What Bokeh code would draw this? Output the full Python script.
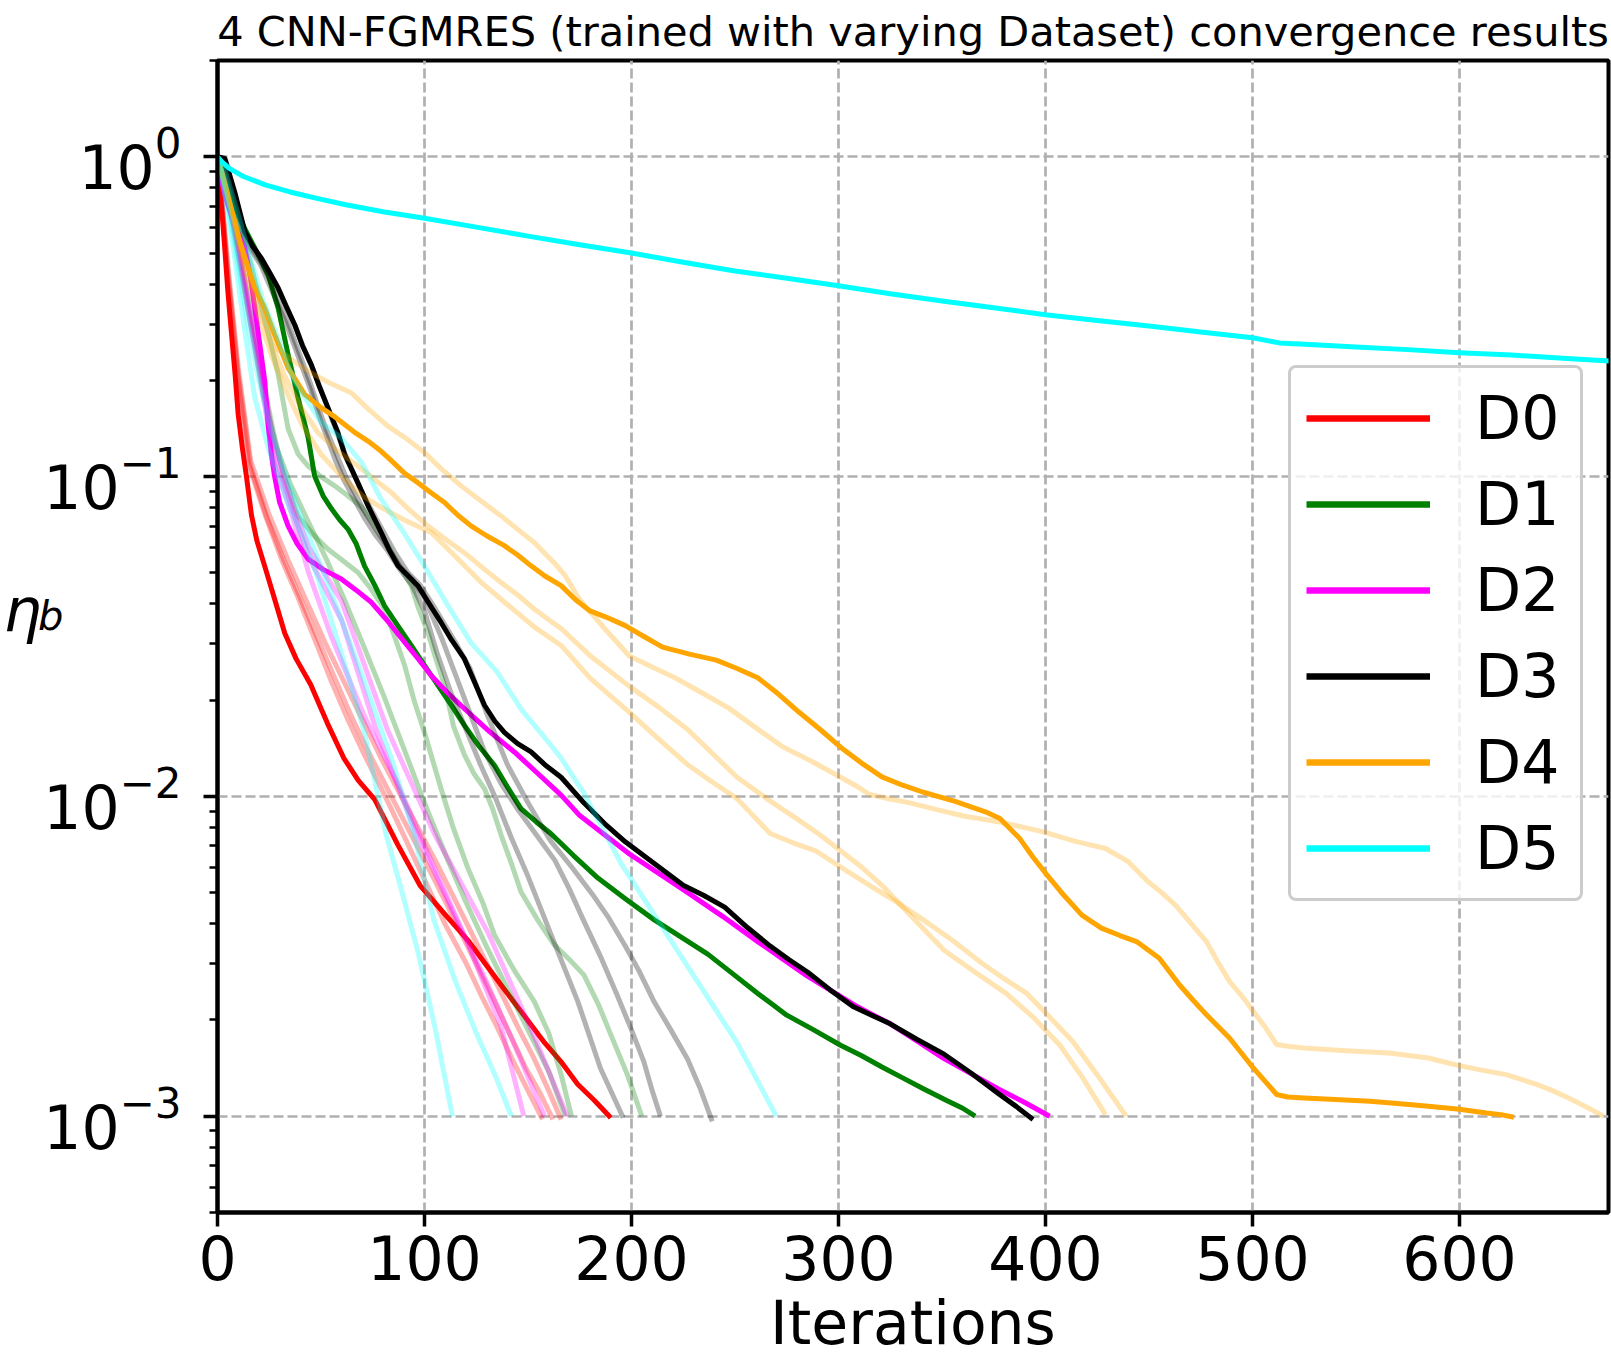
from bokeh.plotting import figure
from bokeh.models import Range1d, FixedTicker, Legend, LegendItem, LogAxis
from bokeh.embed import file_html
from bokeh.resources import INLINE

FONT = "DejaVu Sans"
TITLE = "4 CNN-FGMRES (trained with varying Dataset) convergence results"
LABELS = ["D0", "D1", "D2", "D3", "D4", "D5"]
COLORS = ["red", "green", "magenta", "black", "orange", "cyan"]
X_TICKS = [0, 100, 200, 300, 400, 500, 600]
Y_TICKS = [1e-3, 1e-2, 1e-1, 1.0]

# Each run: iteration numbers and log10 of the residual eta_b.
# ---- D0 (red) ----
d0_it = [0, 1, 2, 3.5, 5, 6.8, 8.5, 10, 12, 14, 16.4, 19, 22.8, 27, 32.5, 38, 45, 53, 61, 68,
         76, 87, 98, 110, 121, 129, 137, 144, 151, 158, 166, 174, 182, 190]
d0_lg = [0, -0.05, -0.16, -0.285, -0.42, -0.556, -0.68, -0.806, -0.91, -1.0, -1.12, -1.2, -1.28,
         -1.37, -1.49, -1.57, -1.65, -1.77, -1.88, -1.95, -2.01, -2.15, -2.28, -2.37, -2.45, -2.52,
         -2.59, -2.65, -2.71, -2.77, -2.83, -2.90, -2.95, -3.005]
d0_a_it = [0, 2, 5, 10, 15, 23, 31, 39, 47, 55, 63, 71, 78, 84, 92, 100, 110, 120, 128, 135, 143, 150, 157]
d0_a_lg = [0, -0.14, -0.38, -0.70, -0.96, -1.12, -1.26, -1.38, -1.51, -1.64, -1.76, -1.87, -1.96, -2.04,
           -2.15, -2.26, -2.40, -2.52, -2.63, -2.72, -2.83, -2.92, -3.01]
d0_b_it = [0, 2, 5, 10, 16, 24, 32, 40, 48, 56, 64, 72, 80, 88, 96, 104, 114, 124, 133, 141, 149, 156, 162]
d0_b_lg = [0, -0.13, -0.36, -0.68, -0.97, -1.13, -1.26, -1.38, -1.50, -1.62, -1.74, -1.85, -1.95, -2.05,
           -2.15, -2.25, -2.38, -2.51, -2.63, -2.74, -2.85, -2.93, -3.01]
d0_c_it = [0, 2, 5, 10, 16, 25, 34, 43, 52, 61, 70, 79, 88, 97, 106, 116, 126, 136, 145, 153, 160, 166]
d0_c_lg = [0, -0.12, -0.34, -0.66, -0.95, -1.12, -1.26, -1.39, -1.52, -1.64, -1.76, -1.88, -1.99, -2.10,
           -2.21, -2.34, -2.47, -2.60, -2.72, -2.82, -2.92, -3.01]

# ---- D1 (green) ----
d1_it = [0, 3, 6.8, 12, 18, 24.5, 29.3, 34.1, 38.9, 43.8, 46.9, 51, 55, 59, 63, 67, 71, 76, 80.7, 87,
         93.6, 100, 106.5, 113, 119.3, 126, 133.8, 140, 146.6, 154, 161, 172, 183, 197, 211, 224, 237,
         249, 261, 268, 275, 288, 301, 311, 321, 331, 341, 352, 360, 366]
d1_lg = [0, -0.04, -0.13, -0.21, -0.285, -0.369, -0.473, -0.618, -0.753, -0.878, -0.998, -1.06, -1.10,
         -1.135, -1.164, -1.21, -1.279, -1.34, -1.404, -1.465, -1.528, -1.59, -1.653, -1.715, -1.778,
         -1.84, -1.903, -1.97, -2.038, -2.08, -2.116, -2.185, -2.251, -2.32, -2.386, -2.44, -2.494,
         -2.555, -2.616, -2.65, -2.684, -2.73, -2.778, -2.81, -2.846, -2.88, -2.914, -2.95, -2.975, -3.0]
d1_a_it = [0, 3, 7, 12, 17, 22, 27, 32, 38.9, 46, 53.4, 60, 67.9, 74, 80.7, 85, 90.4, 95.2, 100, 108,
           114, 121, 128, 133.8, 143, 153, 160, 166, 171]
d1_a_lg = [0, -0.06, -0.18, -0.34, -0.52, -0.70, -0.86, -1.0, -1.123, -1.18, -1.227, -1.26, -1.30, -1.35,
           -1.414, -1.49, -1.59, -1.705, -1.80, -1.976, -2.10, -2.225, -2.33, -2.433, -2.54, -2.641,
           -2.74, -2.87, -3.0]
d1_b_it = [0, 3, 7, 12, 16.4, 20, 24.5, 29.3, 34.1, 39, 43.8, 50, 56.6, 63, 69.5, 76, 82.3, 88, 93.6, 97,
           101.6, 105.5, 109.7, 114, 119.3, 124, 129, 133, 137, 142, 146.6, 155, 162.7, 170, 177, 184,
           190, 198, 205]
d1_b_lg = [0, -0.05, -0.14, -0.25, -0.343, -0.44, -0.551, -0.68, -0.85, -0.93, -0.967, -1.0, -1.029,
           -1.06, -1.095, -1.15, -1.216, -1.28, -1.341, -1.41, -1.487, -1.57, -1.653, -1.78, -1.87,
           -1.93, -1.976, -2.04, -2.121, -2.21, -2.298, -2.39, -2.464, -2.51, -2.558, -2.65, -2.745,
           -2.87, -3.0]
d1_c_it = [0, 3, 7, 12, 17, 22, 28, 35, 43, 52, 61, 70, 80, 90, 100, 110, 120, 130, 140, 150, 160, 168]
d1_c_lg = [0, -0.06, -0.2, -0.38, -0.56, -0.74, -0.9, -1.02, -1.13, -1.25, -1.38, -1.52, -1.68, -1.85,
           -2.02, -2.18, -2.33, -2.47, -2.6, -2.73, -2.86, -3.0]

# ---- D2 (magenta) ----
d2_it = [0, 2, 5, 8, 13.2, 16, 18, 20.5, 22.8, 24.5, 26, 27.6, 30, 34.1, 38.5, 43.8, 51, 59.8, 67, 74.3,
         82, 90.4, 97, 103.2, 111, 119.3, 131, 143.4, 155, 166, 175, 187, 199, 213, 227, 244, 261, 273,
         285, 297, 309, 317, 325, 338, 351, 364, 377, 390, 402]
d2_lg = [0, -0.077, -0.15, -0.21, -0.285, -0.38, -0.473, -0.59, -0.70, -0.84, -0.93, -1.0, -1.08, -1.154,
         -1.21, -1.258, -1.29, -1.32, -1.355, -1.393, -1.45, -1.518, -1.57, -1.622, -1.675, -1.726,
         -1.795, -1.861, -1.93, -1.996, -2.06, -2.12, -2.18, -2.24, -2.30, -2.375, -2.454, -2.508,
         -2.562, -2.61, -2.657, -2.684, -2.711, -2.765, -2.82, -2.867, -2.914, -2.957, -3.0]
d2_a_it = [0, 3.5, 10, 15, 21, 26, 28, 36, 44, 55, 71, 87, 95, 110, 121, 137, 148]
d2_a_lg = [0, -0.08, -0.29, -0.49, -0.7, -0.91, -0.97, -1.12, -1.30, -1.5, -1.75, -1.96, -2.08, -2.3,
           -2.46, -2.72, -3.0]
d2_b_it = [0, 3.5, 10, 15, 21, 26, 29, 36, 44, 60, 76, 95, 115, 130, 145, 158]
d2_b_lg = [0, -0.08, -0.28, -0.47, -0.68, -0.88, -0.96, -1.1, -1.25, -1.45, -1.78, -2.1, -2.38, -2.58,
           -2.8, -3.0]
d2_c_it = [0, 3.5, 10, 15, 21, 26, 30, 37, 44, 60, 82, 105, 131, 153, 169]
d2_c_lg = [0, -0.07, -0.27, -0.46, -0.66, -0.85, -0.95, -1.1, -1.22, -1.39, -1.79, -2.12, -2.43, -2.75, -3.0]

# ---- D3 (black) ----
d3_it = [0, 3.5, 8.3, 13.2, 17, 21.2, 25, 29.3, 33, 37.3, 41, 45.3, 49, 53.4, 58.2, 61.4, 67.8, 73, 79.1,
         83, 87.2, 92, 96.8, 102, 108, 113, 119.3, 124, 129, 134, 138.6, 145, 151.5, 158, 166, 177, 187,
         197, 211, 225, 235, 245, 256, 267, 276, 285, 296, 307, 316, 325, 338, 351, 364, 377, 386, 394]
d3_lg = [0, -0.005, -0.11, -0.233, -0.28, -0.317, -0.36, -0.41, -0.465, -0.525, -0.59, -0.65, -0.715,
         -0.785, -0.863, -0.93, -1.019, -1.095, -1.175, -1.23, -1.279, -1.31, -1.341, -1.395, -1.456,
         -1.51, -1.57, -1.64, -1.715, -1.765, -1.80, -1.835, -1.861, -1.9, -1.94, -2.02, -2.085, -2.142,
         -2.21, -2.278, -2.31, -2.346, -2.41, -2.468, -2.51, -2.549, -2.605, -2.657, -2.684, -2.711,
         -2.76, -2.806, -2.865, -2.928, -2.97, -3.01]
d3_a_it = [0, 3, 7, 12, 17, 21, 25, 29, 33, 37, 41, 45, 49, 53, 57, 61, 66, 71, 76, 82, 88, 94, 100, 106,
           113, 120, 127, 134, 142, 150, 161, 174, 185, 196]
d3_a_lg = [0, -0.01, -0.11, -0.24, -0.30, -0.34, -0.40, -0.46, -0.52, -0.59, -0.66, -0.73, -0.81, -0.88,
           -0.95, -1.01, -1.07, -1.13, -1.18, -1.23, -1.29, -1.34, -1.42, -1.55, -1.68, -1.79, -1.90,
           -2.00, -2.13, -2.25, -2.43, -2.64, -2.85, -3.005]
d3_b_it = [0, 3, 7.5, 12.5, 17, 21, 25, 29, 33, 37, 41, 45, 49, 53, 57.5, 62, 67, 72, 77, 82, 88, 94, 100,
           108, 115, 122, 129, 137, 145, 154, 163, 170, 177, 185, 193, 200, 206, 210, 214]
d3_b_lg = [0, -0.01, -0.11, -0.235, -0.29, -0.33, -0.38, -0.44, -0.50, -0.57, -0.64, -0.71, -0.79, -0.86,
           -0.93, -1.0, -1.06, -1.12, -1.17, -1.22, -1.28, -1.32, -1.38, -1.50, -1.62, -1.74, -1.86, -1.96,
           -2.04, -2.12, -2.2, -2.29, -2.39, -2.5, -2.62, -2.73, -2.83, -2.92, -3.0]
d3_c_it = [0, 4, 8, 13, 17.5, 21.5, 25.5, 29.5, 33.5, 37.5, 41.5, 45.5, 49.5, 53.5, 58, 62, 68, 74, 80, 86,
           92, 98, 104, 110, 116, 122, 130, 140, 150, 161, 171, 181, 189, 197, 204, 211, 219, 227, 233, 239]
d3_c_lg = [0, -0.01, -0.11, -0.235, -0.285, -0.322, -0.365, -0.415, -0.47, -0.53, -0.595, -0.655, -0.72,
           -0.79, -0.866, -0.935, -1.025, -1.1, -1.17, -1.24, -1.30, -1.34, -1.40, -1.465, -1.53, -1.60,
           -1.74, -1.90, -2.02, -2.14, -2.22, -2.305, -2.38, -2.468, -2.55, -2.643, -2.73, -2.82, -2.91,
           -3.016]

# ---- D4 (orange) ----
d4_it = [0, 3, 7, 11, 15, 18, 22.8, 27.6, 34.1, 42.1, 50.2, 56, 61.4, 67, 72.7, 78, 84, 90.4, 96.8, 103,
         109.7, 116, 122.5, 130, 138.6, 145, 151.5, 158, 166, 173, 180, 188, 197, 206, 215, 228, 241, 251,
         261, 271, 281, 291, 301, 311, 321, 331, 341, 356, 371, 378, 387.6, 394, 400.8, 409, 417.6, 427,
         436, 444, 455, 464.7, 471, 477.8, 489, 500.4, 506, 511.7, 517, 524.8, 540, 556.8, 570, 585, 600,
         613, 620, 626.3]
d4_lg = [0, -0.07, -0.17, -0.27, -0.35, -0.41, -0.473, -0.556, -0.66, -0.743, -0.785, -0.81, -0.837,
         -0.865, -0.889, -0.915, -0.95, -0.99, -1.019, -1.05, -1.081, -1.12, -1.154, -1.185, -1.216,
         -1.245, -1.279, -1.31, -1.341, -1.385, -1.42, -1.44, -1.466, -1.50, -1.533, -1.555, -1.574,
         -1.60, -1.629, -1.68, -1.737, -1.79, -1.846, -1.895, -1.939, -1.965, -1.987, -2.015, -2.048,
         -2.069, -2.132, -2.19, -2.246, -2.31, -2.371, -2.412, -2.435, -2.454, -2.506, -2.589, -2.635,
         -2.683, -2.756, -2.849, -2.89, -2.932, -2.94, -2.943, -2.948, -2.953, -2.96, -2.969, -2.978,
         -2.99, -2.995, -3.003]
d4_a_it = [0, 4, 9, 14, 20, 25, 29.3, 37, 45.3, 55, 64.6, 73, 82.3, 91, 100, 108, 117.7, 127, 137, 145,
           153, 162.7, 168, 175, 187, 199, 210, 221, 234, 247, 260, 273, 287, 301, 308, 315, 325, 335,
           348, 361, 378, 399, 414, 429, 440, 449.6, 456, 462.8, 470, 477.8, 483, 489, 495, 500.4, 506,
           511.7, 518, 524.8, 545, 566, 585, 598, 610, 622.6, 637.6, 645, 652.7, 661, 669.6]
d4_a_lg = [0, -0.1, -0.22, -0.33, -0.43, -0.52, -0.603, -0.64, -0.676, -0.71, -0.738, -0.79, -0.842,
           -0.88, -0.925, -0.975, -1.029, -1.075, -1.123, -1.165, -1.206, -1.27, -1.31, -1.385, -1.475,
           -1.561, -1.595, -1.629, -1.676, -1.724, -1.785, -1.845, -1.89, -1.94, -1.965, -1.994, -2.008,
           -2.021, -2.042, -2.062, -2.08, -2.111, -2.14, -2.163, -2.204, -2.267, -2.30, -2.34, -2.395,
           -2.454, -2.515, -2.579, -2.625, -2.672, -2.72, -2.776, -2.782, -2.787, -2.795, -2.802, -2.818,
           -2.839, -2.855, -2.87, -2.901, -2.92, -2.943, -2.97, -3.0]
d4_b_it = [0, 4, 9, 14, 20, 26, 32, 40, 48.6, 58, 67.9, 76, 84, 92, 101.6, 111, 121, 129, 137, 145, 153,
           161, 166, 180, 199, 213, 227, 239, 251, 266, 281, 291, 301, 311, 321, 336, 351, 366, 381, 394,
           407, 418, 429]
d4_b_lg = [0, -0.1, -0.23, -0.35, -0.47, -0.58, -0.68, -0.78, -0.863, -0.92, -0.967, -1.01, -1.05, -1.10,
           -1.154, -1.20, -1.247, -1.29, -1.331, -1.37, -1.414, -1.452, -1.475, -1.56, -1.656, -1.72,
           -1.79, -1.865, -1.94, -2.01, -2.075, -2.12, -2.17, -2.22, -2.278, -2.38, -2.481, -2.55, -2.616,
           -2.69, -2.778, -2.88, -2.995]
d4_c_it = [0, 4, 9, 14, 20, 26, 33, 41, 50, 60, 70, 80, 90, 103.2, 115, 127.4, 140, 153, 166, 180, 199,
           213, 227, 239, 251, 267, 278, 289, 302, 315, 328, 341, 355, 369, 380, 391, 402, 413, 426, 439]
d4_c_lg = [0, -0.1, -0.24, -0.37, -0.5, -0.62, -0.73, -0.84, -0.93, -1.0, -1.06, -1.10, -1.135, -1.175,
           -1.25, -1.331, -1.40, -1.47, -1.528, -1.63, -1.737, -1.82, -1.90, -1.955, -2.007, -2.116,
           -2.145, -2.17, -2.225, -2.278, -2.33, -2.386, -2.45, -2.52, -2.57, -2.616, -2.69, -2.765,
           -2.88, -3.0]

# ---- D5 (cyan) ----
d5_it = [0, 2, 5.7, 12, 23, 35, 48, 62, 80, 100, 125, 150, 175, 200, 225, 250, 275, 300, 325, 350, 375,
         400, 425, 450, 475, 500, 513, 530, 550, 575, 600, 625, 650, 680]
d5_lg = [0, -0.015, -0.036, -0.06, -0.088, -0.11, -0.13, -0.150, -0.172, -0.192, -0.22, -0.248, -0.275,
         -0.301, -0.33, -0.357, -0.38, -0.403, -0.428, -0.451, -0.472, -0.494, -0.512, -0.529, -0.548,
         -0.566, -0.582, -0.588, -0.595, -0.603, -0.613, -0.62, -0.63, -0.642]
d5_a_it = [0, 3, 8, 13.2, 18, 24.5, 29.3, 35, 42, 48.6, 55, 63, 71, 81.5, 90, 96.8, 105, 113.5]
d5_a_lg = [0, -0.1, -0.3, -0.545, -0.753, -0.91, -1.0, -1.1, -1.2, -1.32, -1.45, -1.62, -1.80, -2.12,
           -2.32, -2.485, -2.72, -3.0]
d5_b_it = [0, 3, 8, 14, 20, 26, 32, 40, 50, 60, 72, 85, 95, 104.7, 115, 125, 134, 142]
d5_b_lg = [0, -0.08, -0.26, -0.5, -0.7, -0.86, -0.98, -1.12, -1.28, -1.45, -1.66, -1.9, -2.12, -2.39,
           -2.58, -2.74, -2.87, -3.0]
d5_c_it = [0, 4, 10, 16, 22, 30, 37, 50, 60, 70, 79, 90, 100, 111, 122.5, 135, 147, 156, 166, 177, 195,
           213, 229, 251, 270]
d5_c_lg = [0, -0.05, -0.18, -0.32, -0.45, -0.58, -0.7, -0.83, -0.88, -0.96, -1.07, -1.175, -1.28, -1.4,
           -1.52, -1.61, -1.73, -1.8, -1.88, -1.99, -2.21, -2.39, -2.55, -2.77, -3.0]

DATASETS = [
    ([(d0_a_it, d0_a_lg), (d0_b_it, d0_b_lg), (d0_c_it, d0_c_lg)], (d0_it, d0_lg)),
    ([(d1_a_it, d1_a_lg), (d1_b_it, d1_b_lg), (d1_c_it, d1_c_lg)], (d1_it, d1_lg)),
    ([(d2_a_it, d2_a_lg), (d2_b_it, d2_b_lg), (d2_c_it, d2_c_lg)], (d2_it, d2_lg)),
    ([(d3_a_it, d3_a_lg), (d3_b_it, d3_b_lg), (d3_c_it, d3_c_lg)], (d3_it, d3_lg)),
    ([(d4_a_it, d4_a_lg), (d4_b_it, d4_b_lg), (d4_c_it, d4_c_lg)], (d4_it, d4_lg)),
    ([(d5_a_it, d5_a_lg), (d5_b_it, d5_b_lg), (d5_c_it, d5_c_lg)], (d5_it, d5_lg)),
]


def eta(lg):
    return [10.0 ** v for v in lg]


p = figure(width=1611, height=1360, y_axis_type="log",
           x_range=Range1d(0, 672), y_range=Range1d(5e-4, 2),
           output_backend="svg", toolbar_location=None,
           min_border_left=216, min_border_right=3, min_border_top=58, min_border_bottom=148)
p.background_fill_color = "white"
p.border_fill_color = "white"
p.outline_line_color = "black"
p.outline_line_width = 4
p.outline_line_alpha = 1.0

p.title.text = TITLE
p.title.align = "center"
p.title.text_font = FONT
p.title.text_font_size = "41.5px"
p.title.text_font_style = "normal"
p.title.text_color = "black"
p.title.standoff = 9

# axes
for ax in (p.xaxis[0], p.yaxis[0]):
    ax.axis_line_width = 4
    ax.axis_line_color = "black"
    ax.major_tick_out = 14
    ax.major_tick_in = 0
    ax.major_tick_line_width = 3.5
    ax.minor_tick_out = 8
    ax.minor_tick_in = 0
    ax.minor_tick_line_width = 2.5
    ax.major_label_text_font = FONT
    ax.major_label_text_font_size = "60px"
    ax.major_label_text_color = "black"
p.xaxis.ticker = FixedTicker(ticks=X_TICKS)
p.xaxis.minor_tick_line_color = None
p.xaxis.major_label_standoff = 8
p.xaxis.axis_label = "Iterations"
p.xaxis.axis_label_text_font = FONT
p.xaxis.axis_label_text_font_size = "60px"
p.xaxis.axis_label_text_font_style = "normal"
p.xaxis.axis_label_text_color = "black"
p.xaxis.axis_label_standoff = 5
minor = [m * 10.0 ** e for e in range(-4, 1) for m in range(2, 10)]
p.yaxis.ticker = FixedTicker(ticks=Y_TICKS, minor_ticks=minor)
p.yaxis.major_label_standoff = 22


def side_label(text, size, standoff, line_height):
    """Unticked left axis that only carries a horizontal italic label.
    The trailing blank line lifts the glyph above the axis middle."""
    ax = LogAxis(ticker=FixedTicker(ticks=[]), axis_label=text + "\n ", axis_label_standoff=standoff,
                 axis_label_text_font=FONT, axis_label_text_font_size=size,
                 axis_label_text_font_style="italic", axis_label_text_color="black",
                 axis_label_text_line_height=line_height,
                 axis_line_color=None, major_tick_line_color=None, minor_tick_line_color=None,
                 major_tick_out=0, major_tick_in=0, minor_tick_out=0, minor_tick_in=0,
                 major_label_standoff=0, major_label_text_font_size="0px")
    if "axis_label_orientation" in LogAxis.properties():
        ax.axis_label_orientation = "horizontal"
    p.add_layout(ax, "left")


# y label: eta with subscript b
side_label("b", "40px", -23, 0.9)
side_label("η", "60px", -6, 0.75)

for g in (p.xgrid[0], p.ygrid[0]):
    g.grid_line_color = "#b0b0b0"
    g.grid_line_width = 2.7
    g.grid_line_dash = "10 4"

# runs: faded repeats first, then the highlighted run of each dataset
for color, (faded, main) in zip(COLORS, DATASETS):
    for it, lg in faded:
        p.line(it, eta(lg), line_color=color, line_alpha=0.3, line_width=5, line_join="round")
    p.line(main[0], eta(main[1]), line_color=color, line_width=5, line_join="round")

# legend swatches (thicker strokes than the curves); one point each, so nothing shows in the frame
items = []
for name, color, (_, main) in zip(LABELS, COLORS, DATASETS):
    r = p.line(x=main[0][:1], y=eta(main[1][:1]), line_color=color, line_width=6.5)
    items.append(LegendItem(label=name, renderers=[r]))
legend = Legend(items=items, location=(1071, 311), orientation="vertical",
                label_text_font=FONT, label_text_font_size="60px", label_text_color="black",
                glyph_width=124, glyph_height=70, label_height=70, label_width=90, label_standoff=45,
                spacing=16, padding=15, margin=0,
                border_line_color="#cccccc", border_line_width=3, border_line_alpha=1.0,
                background_fill_color="white", background_fill_alpha=0.8)
if "border_radius" in Legend.properties():
    legend.border_radius = 8
p.add_layout(legend)

open("out.html", "w").write(file_html(p, INLINE))
